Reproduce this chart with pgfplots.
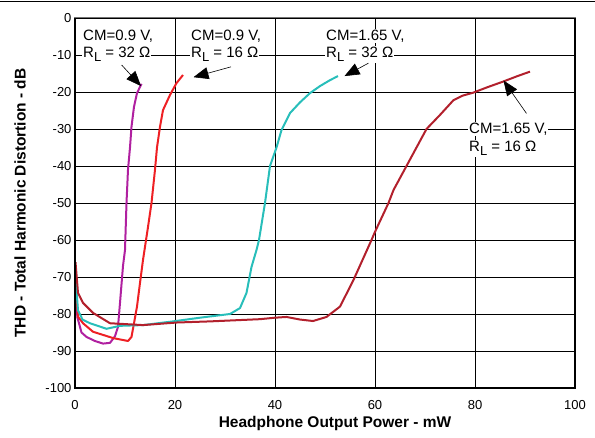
\documentclass[border=0pt]{standalone}
\usepackage{fontspec}
\setmainfont{Liberation Sans}
\usepackage{pgfplots}
\pgfplotsset{compat=1.18}
\usetikzlibrary{arrows.meta}

\definecolor{cmag}{RGB}{176,32,160}
\definecolor{cred}{RGB}{238,32,36}
\definecolor{ccyan}{RGB}{40,190,186}
\definecolor{cdred}{RGB}{178,32,44}

\newcommand{\RL}{R\raisebox{-4pt}{\fontsize{13}{14}\selectfont L}}

\begin{document}
\begin{tikzpicture}
\useasboundingbox (-75pt,-50pt) rectangle (520pt,388pt);
\draw[line width=1pt] (-75pt,386.3pt) -- (520pt,386.3pt);
\begin{axis}[
    at={(0,0)}, anchor=south west,
    scale only axis, width=500pt, height=370pt,
    xmin=0, xmax=100, ymin=-100, ymax=0,
    xtick={0,20,...,100},
    ytick={-100,-90,...,0},
    grid=major,
    major grid style={black, line width=0.7pt},
    major tick length=0pt,
    axis line style={black!55, line width=1pt},
    tick label style={font=\fontsize{13}{15}\selectfont},
    xticklabel style={anchor=center, yshift=-17pt},
    /pgf/number format/assume math mode=true,
    label style={font=\bfseries\fontsize{15.5}{18}\selectfont},
    xlabel={Headphone Output Power - mW},
    ylabel={THD - Total Harmonic Distortion - dB},
    xlabel style={at={(axis description cs:0.52,-0.095)}, anchor=center},
    ylabel style={at={(axis description cs:-0.11,0.5)}, anchor=center},
    clip=false,
    every axis plot/.style={line width=2pt, line join=round},
]

% CM=0.9 V, RL=32 ohm
\addplot[cmag] coordinates {
    (0.2,-77) (0.5,-81) (1.3,-85) (2.3,-86.2) (4,-87.3) (5.6,-88) (7,-87.8)
    (8,-86) (8.6,-83.5) (9,-77) (9.6,-67) (10,-62.7) (10.3,-50) (10.6,-41)
    (11,-35) (11.3,-29.4) (11.8,-24) (12.4,-20.3) (13.3,-17.8)
};

% CM=0.9 V, RL=16 ohm
\addplot[cred] coordinates {
    (0.2,-74) (0.6,-80.7) (1.6,-82.5) (3.6,-84.8) (7.6,-86.5) (10.6,-87.3)
    (11.3,-86.2) (11.8,-82.5) (12.4,-78) (13,-71.6) (13.6,-65.4) (14.6,-56.5)
    (15.3,-50) (16,-41) (16.4,-35) (17,-29.4) (17.6,-24.9) (19,-20.8)
    (20.3,-17.6) (21.6,-15.4)
};

% CM=1.65 V, RL=32 ohm
\addplot[ccyan] coordinates {
    (0.1,-70) (0.6,-79) (1.5,-81.5) (3,-82.5) (6.3,-84) (9,-83.2) (13.6,-83)
    (19.6,-82) (25,-81) (31,-80) (33,-78.4) (34.3,-74.3) (35.3,-67.3)
    (36.3,-62.7) (36.8,-60) (38,-50) (39,-40) (40.3,-35) (41.3,-30.3)
    (43,-25.7) (45,-22.8) (47,-20.3) (49,-18.4) (51,-16.8) (52.6,-15.7)
};

% CM=1.65 V, RL=16 ohm
\addplot[cdred] coordinates {
    (0.1,-66) (0.6,-74.3) (1.6,-77) (3.6,-79.7) (7,-82.5) (13.6,-83)
    (20.4,-82.3) (27,-82) (37,-81.4) (40,-81) (42.3,-80.8) (45,-81.5)
    (47.6,-81.9) (50.3,-80.8) (53,-78) (55.7,-70.8) (59.3,-60) (60,-57.8)
    (62.7,-50) (63.7,-46.5) (66.3,-40) (70.3,-30) (73,-26.2) (75.7,-22.2)
    (77.5,-21) (79.6,-20.2) (82.5,-18.7) (85.6,-17.2) (88.5,-15.7) (91,-14.5)
};

% frame: thick left, bottom and right sides
\draw[line width=2.6pt] (rel axis cs:0,1) -- (rel axis cs:0,0)
    -- (rel axis cs:1,0) -- (rel axis cs:1,1);

% annotations
\tikzset{lbl/.style={anchor=base west, fill=white, inner sep=1pt,
    font=\fontsize{15}{18}\selectfont},
    arr/.style={-{Triangle[length=15pt,width=12pt]}, line width=0.6pt}}

\node[lbl] at (axis cs:1.4,-5.95) {CM=0.9 V,};
\node[lbl] at (axis cs:1.4,-10.8) {\RL{} = 32 Ω};
\draw[arr] (axis cs:9.33,-12.7) -- (axis cs:13.2,-18.4);

\node[lbl] at (axis cs:23,-5.95) {CM=0.9 V,};
\node[lbl] at (axis cs:23,-10.8) {\RL{} = 16 Ω};
\draw[arr] (axis cs:31.2,-13.2) -- (axis cs:23.7,-16.0);

\node[lbl] at (axis cs:50,-5.95) {CM=1.65 V,};
\node[lbl] at (axis cs:50,-10.8) {\RL{} = 32 Ω};
\draw[arr] (axis cs:58.7,-12.2) -- (axis cs:53.9,-15.7);

\node[lbl] at (axis cs:78.6,-31.2) {CM=1.65 V,};
\node[lbl] at (axis cs:78.6,-36.1) {\RL{} = 16 Ω};
\draw[arr] (axis cs:90.3,-25.8) -- (axis cs:85.7,-16.9);

\end{axis}
\end{tikzpicture}
\end{document}
